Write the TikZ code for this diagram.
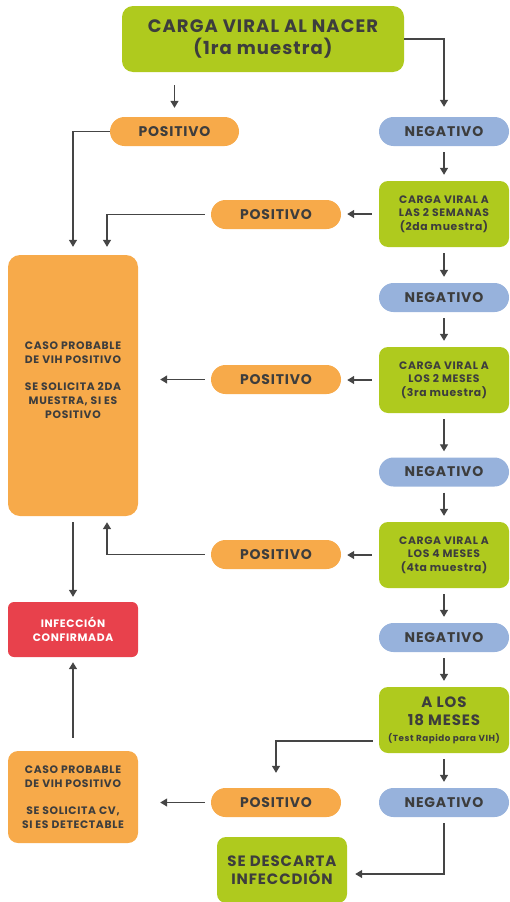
\documentclass[tikz,border=0pt]{standalone}
\usepackage{fontspec}
\setmainfont{Poppins}[LetterSpace=6]
\usetikzlibrary{arrows.meta,calc}
\definecolor{cgreen}{HTML}{AFCA1E}
\definecolor{corange}{HTML}{F7AA4A}
\definecolor{cblue}{HTML}{97B2DC}
\definecolor{cred}{HTML}{E8414C}
\definecolor{ctext}{HTML}{3D3D3D}
\definecolor{carrow}{HTML}{454545}
\tikzset{
  box/.style={rounded corners=9pt, align=center, text=ctext, inner sep=0pt,
    font=\bfseries\fontsize{10.8}{13.7}\selectfont},
  greenbox/.style={box, fill=cgreen, minimum width=130pt, minimum height=66pt},
  pill/.style={box, rounded corners=14.5pt, minimum width=130pt, minimum height=29pt,
    font=\bfseries\fontsize{14}{16}\selectfont},
  posbox/.style={pill, fill=corange},
  negbox/.style={pill, fill=cblue},
  arr/.style={draw=carrow, line width=1.3pt, -{Triangle[length=7pt,width=8pt]}},
}
\begin{document}
\begin{tikzpicture}[x=1pt,y=-1pt]
\useasboundingbox (0,0) rectangle (509,902);
% right column
\node[box, fill=cgreen, minimum width=282pt, minimum height=66pt, rounded corners=11pt,
  font=\bfseries\fontsize{18}{22}\selectfont] (top) at (263,39) {CARGA VIRAL AL NACER\\(1ra muestra)};
\node[posbox, minimum width=129pt] (pos1) at (174.5,131.5) {POSITIVO};
\node[negbox] (neg1) at (444,131.5) {NEGATIVO};
\node[greenbox] (cv2) at (444,214) {CARGA VIRAL A\\LAS 2 SEMANAS\\(2da muestra)};
\node[posbox] (pos2) at (276,214.5) {POSITIVO};
\node[negbox] (neg2) at (444,297.5) {NEGATIVO};
\node[greenbox] (cv3) at (444,380) {CARGA VIRAL A\\LOS 2 MESES\\(3ra muestra)};
\node[posbox] (pos3) at (276,379.5) {POSITIVO};
\node[negbox] (neg3) at (444,472) {NEGATIVO};
\node[greenbox] (cv4) at (444,555) {CARGA VIRAL A\\LOS 4 MESES\\(4ta muestra)};
\node[posbox] (pos4) at (276,554.5) {POSITIVO};
\node[negbox] (neg4) at (444,637.5) {NEGATIVO};
\node[greenbox, font=\bfseries\fontsize{15}{18}\selectfont] (m18) at (444,720) {A LOS\\18 MESES\\[-2pt]{\fontsize{8.8}{11}\selectfont (Test Rapido para VIH)}};
\node[negbox] (neg5) at (444,802.5) {NEGATIVO};
\node[posbox] (pos5) at (276,802.5) {POSITIVO};
\node[greenbox, font=\bfseries\fontsize{15}{18}\selectfont] (desc) at (282,870) {SE DESCARTA\\INFECCDIÓN};
% left column
\node[box, fill=corange, minimum width=130pt, minimum height=261pt, rounded corners=12pt] (big) at (73,385.5) {};
\node[box] (bigtxt) at (73,380) {CASO PROBABLE\\DE VIH POSITIVO\\[13.7pt]SE SOLICITA 2DA\\MUESTRA, SI ES\\POSITIVO};
\node[box, fill=cred, text=white, minimum width=130pt, minimum height=55pt, rounded corners=6pt] (inf) at (73,629.5) {INFECCIÓN\\CONFIRMADA};
\node[box, fill=corange, minimum width=130pt, minimum height=92pt, rounded corners=10pt] (caso) at (73,797) {CASO PROBABLE\\DE VIH POSITIVO\\[13.7pt]SE SOLICITA CV,\\SI ES DETECTABLE};
% connectors
\draw[arr, shorten <=13pt, shorten >=9pt] (top.south -| pos1.north) -- (pos1.north);
\draw[arr, shorten >=10pt] (top.east) -| (neg1.north);
\draw[arr, shorten >=8pt] (pos1.west) -| (big.north);
\draw[arr, shorten <=6pt, shorten >=6pt] (neg1) -- (cv2);
\draw[arr, shorten <=7pt, shorten >=6pt] (cv2.west) -- (cv2.west -| pos2.east);
\draw[arr, shorten <=6pt, shorten >=8pt] (pos2.west) -| ($(big.north)+(34,0)$);
\draw[arr, shorten <=6pt, shorten >=6pt] (cv2) -- (neg2);
\draw[arr, shorten <=6pt, shorten >=6pt] (neg2) -- (cv3);
\draw[arr, shorten <=7pt, shorten >=6pt] (cv3.west) -- (cv3.west -| pos3.east);
\draw[arr, shorten <=6pt, shorten >=22pt] (pos3.west) -- (pos3.west -| big.east);
\draw[arr, shorten <=6pt, shorten >=6pt] (cv3) -- (neg3);
\draw[arr, shorten <=6pt, shorten >=6pt] (neg3) -- (cv4);
\draw[arr, shorten <=7pt, shorten >=6pt] (cv4.west) -- (cv4.west -| pos4.east);
\draw[arr, shorten <=6pt, shorten >=6pt] (pos4.west) -| ($(big.south)+(34,0)$);
\draw[arr, shorten <=6pt, shorten >=6pt] (cv4) -- (neg4);
\draw[arr, shorten <=6pt, shorten >=6pt] (neg4) -- (m18);
\draw[arr, shorten <=6pt, shorten >=5pt] (big) -- (inf);
\draw[arr, shorten <=13pt, shorten >=5pt] (caso) -- (inf);
\draw[arr, shorten <=6pt, shorten >=15pt] ($(m18.west)+(0,21)$) -| (pos5.north);
\draw[arr, shorten <=6pt, shorten >=6pt] (m18) -- (neg5);
\draw[arr, shorten <=6pt, shorten >=22pt] (pos5.west) -- (pos5.west -| caso.east);
\draw[arr, shorten <=6pt, shorten >=8pt] (neg5.south) |- ($(desc.east)+(0,4)$);
\end{tikzpicture}
\end{document}
